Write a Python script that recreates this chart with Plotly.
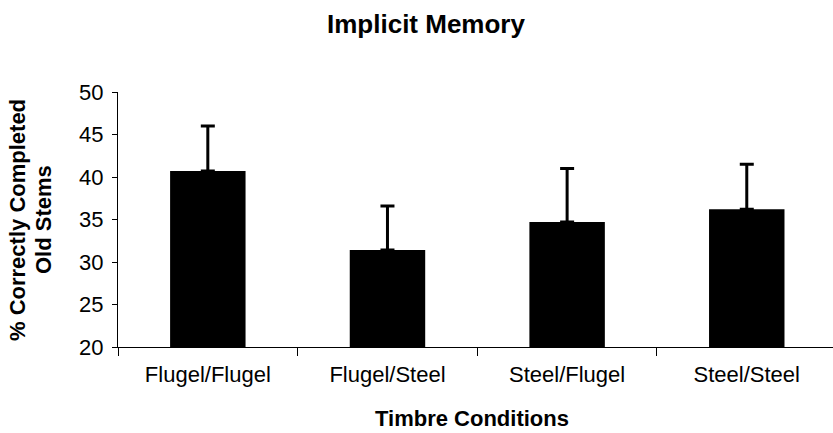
import plotly.graph_objects as go

categories = ["Flugel/Flugel", "Flugel/Steel", "Steel/Flugel", "Steel/Steel"]
means = [40.7, 31.4, 34.7, 36.2]
errors = [5.3, 5.2, 6.3, 5.3]
y_ticks = [20, 25, 30, 35, 40, 45, 50]

FONT = "Liberation Sans, Arial, sans-serif"
W, H = 833, 433
L, R, T, B = 118, 0, 92, 86
PW, PH = W - L - R, H - T - B


def px(x):
    return (x - L) / PW


def py(y):
    return (H - B - y) / PH


fig = go.Figure()
fig.add_trace(go.Bar(
    x=categories, y=means,
    marker=dict(color="black", line=dict(width=0)),
    error_y=dict(type="data", array=errors, arrayminus=[0] * len(errors), symmetric=False,
                 color="black", thickness=3, width=7),
    width=0.42,
))

fig.update_layout(
    width=W, height=H,
    margin=dict(l=L, r=R, t=T, b=B, autoexpand=False),
    paper_bgcolor="white", plot_bgcolor="white",
    showlegend=False,
    font=dict(family=FONT, color="black"),
    xaxis=dict(
        range=[-0.5, 3.48], showline=True, linecolor="black", linewidth=1,
        ticks="outside", tickson="boundaries", ticklen=8, tickcolor="black",
        tickfont=dict(size=22, family=FONT), showgrid=False, zeroline=False,
        ticklabelstandoff=8, automargin=False,
    ),
    yaxis=dict(
        range=[20, 50], tickvals=y_ticks, showline=True, linecolor="black", linewidth=1,
        ticks="outside", ticklen=5, tickcolor="black",
        tickfont=dict(size=22, family=FONT), showgrid=False, zeroline=False,
        ticklabelstandoff=4, automargin=False,
    ),
)

fig.add_annotation(text="<b>Implicit Memory</b>", x=px(426), y=py(24), xref="paper", yref="paper",
                   showarrow=False, font=dict(size=26, family=FONT), xanchor="center", yanchor="middle")
fig.add_annotation(text="<b>Timbre Conditions</b>", x=px(472), y=py(418), xref="paper", yref="paper",
                   showarrow=False, font=dict(size=22, family=FONT), xanchor="center", yanchor="middle")
fig.add_annotation(text="<b>% Correctly Completed</b>", x=px(17), y=py(220), xref="paper", yref="paper",
                   showarrow=False, textangle=-90, font=dict(size=22, family=FONT),
                   xanchor="center", yanchor="middle")
fig.add_annotation(text="<b>Old Stems</b>", x=px(43), y=py(220), xref="paper", yref="paper",
                   showarrow=False, textangle=-90, font=dict(size=22, family=FONT),
                   xanchor="center", yanchor="middle")

fig.write_html("out.html", config={"displayModeBar": False},
               post_script="document.body.style.margin='0';")
